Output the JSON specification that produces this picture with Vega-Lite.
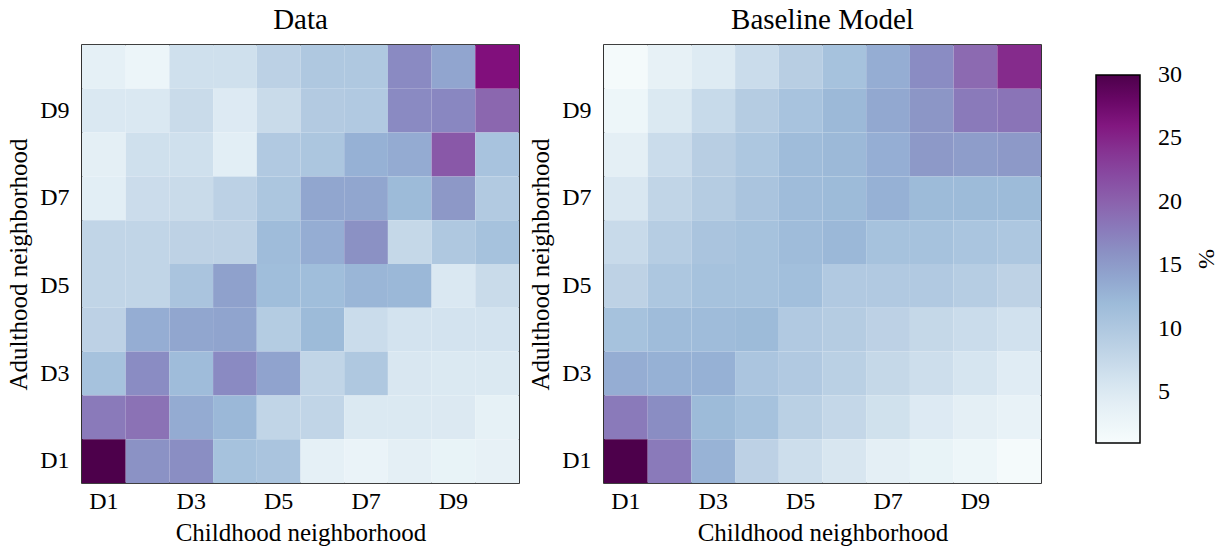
{
  "$schema": "https://vega.github.io/schema/vega-lite/v6.json",
  "background": "white",
  "padding": 5,
  "datasets": {
    "cells": [
      {"panel":"Data","adult":"D10","child":"D1","value":3.7},{"panel":"Data","adult":"D10","child":"D2","value":2.6},{"panel":"Data","adult":"D10","child":"D3","value":6.4},{"panel":"Data","adult":"D10","child":"D4","value":6.4},{"panel":"Data","adult":"D10","child":"D5","value":8.6},{"panel":"Data","adult":"D10","child":"D6","value":10.0},{"panel":"Data","adult":"D10","child":"D7","value":10.0},{"panel":"Data","adult":"D10","child":"D8","value":16.6},{"panel":"Data","adult":"D10","child":"D9","value":14.1},{"panel":"Data","adult":"D10","child":"D10","value":26.4},
      {"panel":"Data","adult":"D9","child":"D1","value":5.2},{"panel":"Data","adult":"D9","child":"D2","value":5.2},{"panel":"Data","adult":"D9","child":"D3","value":7.1},{"panel":"Data","adult":"D9","child":"D4","value":4.9},{"panel":"Data","adult":"D9","child":"D5","value":7.1},{"panel":"Data","adult":"D9","child":"D6","value":9.6},{"panel":"Data","adult":"D9","child":"D7","value":9.8},{"panel":"Data","adult":"D9","child":"D8","value":16.6},{"panel":"Data","adult":"D9","child":"D9","value":16.8},{"panel":"Data","adult":"D9","child":"D10","value":19.5},
      {"panel":"Data","adult":"D8","child":"D1","value":4.0},{"panel":"Data","adult":"D8","child":"D2","value":6.4},{"panel":"Data","adult":"D8","child":"D3","value":6.4},{"panel":"Data","adult":"D8","child":"D4","value":4.3},{"panel":"Data","adult":"D8","child":"D5","value":9.8},{"panel":"Data","adult":"D8","child":"D6","value":10.3},{"panel":"Data","adult":"D8","child":"D7","value":13.0},{"panel":"Data","adult":"D8","child":"D8","value":13.5},{"panel":"Data","adult":"D8","child":"D9","value":20.9},{"panel":"Data","adult":"D8","child":"D10","value":10.8},
      {"panel":"Data","adult":"D7","child":"D1","value":4.2},{"panel":"Data","adult":"D7","child":"D2","value":6.9},{"panel":"Data","adult":"D7","child":"D3","value":7.1},{"panel":"Data","adult":"D7","child":"D4","value":8.6},{"panel":"Data","adult":"D7","child":"D5","value":10.3},{"panel":"Data","adult":"D7","child":"D6","value":14.0},{"panel":"Data","adult":"D7","child":"D7","value":14.0},{"panel":"Data","adult":"D7","child":"D8","value":12.0},{"panel":"Data","adult":"D7","child":"D9","value":15.3},{"panel":"Data","adult":"D7","child":"D10","value":9.7},
      {"panel":"Data","adult":"D6","child":"D1","value":8.0},{"panel":"Data","adult":"D6","child":"D2","value":8.0},{"panel":"Data","adult":"D6","child":"D3","value":8.4},{"panel":"Data","adult":"D6","child":"D4","value":8.4},{"panel":"Data","adult":"D6","child":"D5","value":11.8},{"panel":"Data","adult":"D6","child":"D6","value":13.3},{"panel":"Data","adult":"D6","child":"D7","value":16.0},{"panel":"Data","adult":"D6","child":"D8","value":7.6},{"panel":"Data","adult":"D6","child":"D9","value":10.0},{"panel":"Data","adult":"D6","child":"D10","value":11.0},
      {"panel":"Data","adult":"D5","child":"D1","value":8.0},{"panel":"Data","adult":"D5","child":"D2","value":8.0},{"panel":"Data","adult":"D5","child":"D3","value":10.6},{"panel":"Data","adult":"D5","child":"D4","value":14.5},{"panel":"Data","adult":"D5","child":"D5","value":11.6},{"panel":"Data","adult":"D5","child":"D6","value":11.6},{"panel":"Data","adult":"D5","child":"D7","value":12.5},{"panel":"Data","adult":"D5","child":"D8","value":12.3},{"panel":"Data","adult":"D5","child":"D9","value":5.2},{"panel":"Data","adult":"D5","child":"D10","value":7.1},
      {"panel":"Data","adult":"D4","child":"D1","value":8.5},{"panel":"Data","adult":"D4","child":"D2","value":13.3},{"panel":"Data","adult":"D4","child":"D3","value":14.0},{"panel":"Data","adult":"D4","child":"D4","value":14.2},{"panel":"Data","adult":"D4","child":"D5","value":9.4},{"panel":"Data","adult":"D4","child":"D6","value":12.0},{"panel":"Data","adult":"D4","child":"D7","value":7.0},{"panel":"Data","adult":"D4","child":"D8","value":6.0},{"panel":"Data","adult":"D4","child":"D9","value":6.0},{"panel":"Data","adult":"D4","child":"D10","value":6.0},
      {"panel":"Data","adult":"D3","child":"D1","value":11.0},{"panel":"Data","adult":"D3","child":"D2","value":16.4},{"panel":"Data","adult":"D3","child":"D3","value":11.8},{"panel":"Data","adult":"D3","child":"D4","value":16.6},{"panel":"Data","adult":"D3","child":"D5","value":14.3},{"panel":"Data","adult":"D3","child":"D6","value":8.0},{"panel":"Data","adult":"D3","child":"D7","value":10.0},{"panel":"Data","adult":"D3","child":"D8","value":5.4},{"panel":"Data","adult":"D3","child":"D9","value":5.1},{"panel":"Data","adult":"D3","child":"D10","value":5.1},
      {"panel":"Data","adult":"D2","child":"D1","value":17.9},{"panel":"Data","adult":"D2","child":"D2","value":18.6},{"panel":"Data","adult":"D2","child":"D3","value":13.5},{"panel":"Data","adult":"D2","child":"D4","value":12.3},{"panel":"Data","adult":"D2","child":"D5","value":8.0},{"panel":"Data","adult":"D2","child":"D6","value":8.0},{"panel":"Data","adult":"D2","child":"D7","value":5.1},{"panel":"Data","adult":"D2","child":"D8","value":5.1},{"panel":"Data","adult":"D2","child":"D9","value":5.0},{"panel":"Data","adult":"D2","child":"D10","value":3.6},
      {"panel":"Data","adult":"D1","child":"D1","value":30.0},{"panel":"Data","adult":"D1","child":"D2","value":15.9},{"panel":"Data","adult":"D1","child":"D3","value":16.2},{"panel":"Data","adult":"D1","child":"D4","value":11.0},{"panel":"Data","adult":"D1","child":"D5","value":10.6},{"panel":"Data","adult":"D1","child":"D6","value":3.8},{"panel":"Data","adult":"D1","child":"D7","value":3.0},{"panel":"Data","adult":"D1","child":"D8","value":4.0},{"panel":"Data","adult":"D1","child":"D9","value":3.2},{"panel":"Data","adult":"D1","child":"D10","value":3.5},
      {"panel":"Baseline Model","adult":"D10","child":"D1","value":1.5},{"panel":"Baseline Model","adult":"D10","child":"D2","value":3.5},{"panel":"Baseline Model","adult":"D10","child":"D3","value":4.8},{"panel":"Baseline Model","adult":"D10","child":"D4","value":7.0},{"panel":"Baseline Model","adult":"D10","child":"D5","value":9.0},{"panel":"Baseline Model","adult":"D10","child":"D6","value":11.0},{"panel":"Baseline Model","adult":"D10","child":"D7","value":13.3},{"panel":"Baseline Model","adult":"D10","child":"D8","value":16.4},{"panel":"Baseline Model","adult":"D10","child":"D9","value":19.2},{"panel":"Baseline Model","adult":"D10","child":"D10","value":24.7},
      {"panel":"Baseline Model","adult":"D9","child":"D1","value":2.5},{"panel":"Baseline Model","adult":"D9","child":"D2","value":5.1},{"panel":"Baseline Model","adult":"D9","child":"D3","value":7.3},{"panel":"Baseline Model","adult":"D9","child":"D4","value":9.3},{"panel":"Baseline Model","adult":"D9","child":"D5","value":10.8},{"panel":"Baseline Model","adult":"D9","child":"D6","value":12.2},{"panel":"Baseline Model","adult":"D9","child":"D7","value":13.8},{"panel":"Baseline Model","adult":"D9","child":"D8","value":15.5},{"panel":"Baseline Model","adult":"D9","child":"D9","value":17.9},{"panel":"Baseline Model","adult":"D9","child":"D10","value":18.4},
      {"panel":"Baseline Model","adult":"D8","child":"D1","value":4.0},{"panel":"Baseline Model","adult":"D8","child":"D2","value":7.0},{"panel":"Baseline Model","adult":"D8","child":"D3","value":9.0},{"panel":"Baseline Model","adult":"D8","child":"D4","value":10.2},{"panel":"Baseline Model","adult":"D8","child":"D5","value":11.8},{"panel":"Baseline Model","adult":"D8","child":"D6","value":12.2},{"panel":"Baseline Model","adult":"D8","child":"D7","value":13.2},{"panel":"Baseline Model","adult":"D8","child":"D8","value":15.2},{"panel":"Baseline Model","adult":"D8","child":"D9","value":14.9},{"panel":"Baseline Model","adult":"D8","child":"D10","value":15.2},
      {"panel":"Baseline Model","adult":"D7","child":"D1","value":5.4},{"panel":"Baseline Model","adult":"D7","child":"D2","value":8.0},{"panel":"Baseline Model","adult":"D7","child":"D3","value":9.3},{"panel":"Baseline Model","adult":"D7","child":"D4","value":10.6},{"panel":"Baseline Model","adult":"D7","child":"D5","value":11.8},{"panel":"Baseline Model","adult":"D7","child":"D6","value":12.0},{"panel":"Baseline Model","adult":"D7","child":"D7","value":13.0},{"panel":"Baseline Model","adult":"D7","child":"D8","value":12.0},{"panel":"Baseline Model","adult":"D7","child":"D9","value":12.0},{"panel":"Baseline Model","adult":"D7","child":"D10","value":12.0},
      {"panel":"Baseline Model","adult":"D6","child":"D1","value":7.2},{"panel":"Baseline Model","adult":"D6","child":"D2","value":9.2},{"panel":"Baseline Model","adult":"D6","child":"D3","value":10.6},{"panel":"Baseline Model","adult":"D6","child":"D4","value":11.0},{"panel":"Baseline Model","adult":"D6","child":"D5","value":11.8},{"panel":"Baseline Model","adult":"D6","child":"D6","value":12.3},{"panel":"Baseline Model","adult":"D6","child":"D7","value":11.0},{"panel":"Baseline Model","adult":"D6","child":"D8","value":11.0},{"panel":"Baseline Model","adult":"D6","child":"D9","value":10.5},{"panel":"Baseline Model","adult":"D6","child":"D10","value":10.2},
      {"panel":"Baseline Model","adult":"D5","child":"D1","value":8.4},{"panel":"Baseline Model","adult":"D5","child":"D2","value":10.2},{"panel":"Baseline Model","adult":"D5","child":"D3","value":11.0},{"panel":"Baseline Model","adult":"D5","child":"D4","value":11.0},{"panel":"Baseline Model","adult":"D5","child":"D5","value":11.4},{"panel":"Baseline Model","adult":"D5","child":"D6","value":9.8},{"panel":"Baseline Model","adult":"D5","child":"D7","value":9.8},{"panel":"Baseline Model","adult":"D5","child":"D8","value":9.8},{"panel":"Baseline Model","adult":"D5","child":"D9","value":9.2},{"panel":"Baseline Model","adult":"D5","child":"D10","value":8.4},
      {"panel":"Baseline Model","adult":"D4","child":"D1","value":11.0},{"panel":"Baseline Model","adult":"D4","child":"D2","value":11.8},{"panel":"Baseline Model","adult":"D4","child":"D3","value":11.8},{"panel":"Baseline Model","adult":"D4","child":"D4","value":12.0},{"panel":"Baseline Model","adult":"D4","child":"D5","value":9.8},{"panel":"Baseline Model","adult":"D4","child":"D6","value":9.3},{"panel":"Baseline Model","adult":"D4","child":"D7","value":8.5},{"panel":"Baseline Model","adult":"D4","child":"D8","value":7.6},{"panel":"Baseline Model","adult":"D4","child":"D9","value":7.0},{"panel":"Baseline Model","adult":"D4","child":"D10","value":6.2},
      {"panel":"Baseline Model","adult":"D3","child":"D1","value":13.3},{"panel":"Baseline Model","adult":"D3","child":"D2","value":13.0},{"panel":"Baseline Model","adult":"D3","child":"D3","value":13.0},{"panel":"Baseline Model","adult":"D3","child":"D4","value":10.4},{"panel":"Baseline Model","adult":"D3","child":"D5","value":9.8},{"panel":"Baseline Model","adult":"D3","child":"D6","value":8.8},{"panel":"Baseline Model","adult":"D3","child":"D7","value":7.6},{"panel":"Baseline Model","adult":"D3","child":"D8","value":6.6},{"panel":"Baseline Model","adult":"D3","child":"D9","value":5.7},{"panel":"Baseline Model","adult":"D3","child":"D10","value":4.6},
      {"panel":"Baseline Model","adult":"D2","child":"D1","value":17.9},{"panel":"Baseline Model","adult":"D2","child":"D2","value":16.3},{"panel":"Baseline Model","adult":"D2","child":"D3","value":12.0},{"panel":"Baseline Model","adult":"D2","child":"D4","value":11.0},{"panel":"Baseline Model","adult":"D2","child":"D5","value":8.8},{"panel":"Baseline Model","adult":"D2","child":"D6","value":7.7},{"panel":"Baseline Model","adult":"D2","child":"D7","value":6.3},{"panel":"Baseline Model","adult":"D2","child":"D8","value":4.9},{"panel":"Baseline Model","adult":"D2","child":"D9","value":4.0},{"panel":"Baseline Model","adult":"D2","child":"D10","value":3.3},
      {"panel":"Baseline Model","adult":"D1","child":"D1","value":30.0},{"panel":"Baseline Model","adult":"D1","child":"D2","value":17.9},{"panel":"Baseline Model","adult":"D1","child":"D3","value":12.8},{"panel":"Baseline Model","adult":"D1","child":"D4","value":8.5},{"panel":"Baseline Model","adult":"D1","child":"D5","value":6.7},{"panel":"Baseline Model","adult":"D1","child":"D6","value":5.5},{"panel":"Baseline Model","adult":"D1","child":"D7","value":4.0},{"panel":"Baseline Model","adult":"D1","child":"D8","value":3.2},{"panel":"Baseline Model","adult":"D1","child":"D9","value":2.5},{"panel":"Baseline Model","adult":"D1","child":"D10","value":1.5}
    ]
  },
  "data": {"name": "cells"},
  "spacing": 85,
  "bounds": "flush",
  "resolve": {"scale": {"color": "shared"}},
  "hconcat": [
    {
      "title": {"text": "Data"},
      "width": 437,
      "height": 438,
      "transform": [{"filter": "datum.panel === 'Data'"}],
      "mark": {"type": "rect", "strokeWidth": 0},
      "encoding": {
        "x": {"field": "child", "type": "ordinal", "sort": ["D1","D2","D3","D4","D5","D6","D7","D8","D9","D10"], "scale": {"paddingInner": 0, "paddingOuter": 0}, "axis": {"values": ["D1","D3","D5","D7","D9"], "title": "Childhood neighborhood"}},
        "y": {"field": "adult", "type": "ordinal", "sort": ["D10","D9","D8","D7","D6","D5","D4","D3","D2","D1"], "scale": {"paddingInner": 0, "paddingOuter": 0}, "axis": {"values": ["D1","D3","D5","D7","D9"], "title": "Adulthood neighborhood"}},
        "color": {"field": "value", "type": "quantitative",
          "scale": {"domain": [1, 4.625, 8.25, 11.875, 15.5, 19.125, 22.75, 26.375, 30], "range": ["#f7fcfd","#e0ecf4","#bfd3e6","#9ebcda","#8c96c6","#8c6bb1","#88419d","#810f7c","#4d004b"]},
          "legend": {"orient": "none", "legendX": 1014, "legendY": 30, "direction": "vertical", "title": "%", "titleOrient": "right", "titleAnchor": "middle", "titleAngle": 270, "titlePadding": 12, "gradientLength": 368, "gradientThickness": 44, "gradientStrokeColor": "#000000", "gradientStrokeWidth": 1.5, "values": [5, 10, 15, 20, 25, 30], "labelOffset": 18, "labelBaseline": "middle", "encode": {"labels": {"update": {"baseline": {"value": "middle"}}}}}}
      }
    },
    {
      "title": {"text": "Baseline Model"},
      "width": 437,
      "height": 438,
      "transform": [{"filter": "datum.panel === 'Baseline Model'"}],
      "mark": {"type": "rect", "strokeWidth": 0},
      "encoding": {
        "x": {"field": "child", "type": "ordinal", "sort": ["D1","D2","D3","D4","D5","D6","D7","D8","D9","D10"], "scale": {"paddingInner": 0, "paddingOuter": 0}, "axis": {"values": ["D1","D3","D5","D7","D9"], "title": "Childhood neighborhood"}},
        "y": {"field": "adult", "type": "ordinal", "sort": ["D10","D9","D8","D7","D6","D5","D4","D3","D2","D1"], "scale": {"paddingInner": 0, "paddingOuter": 0}, "axis": {"values": ["D1","D3","D5","D7","D9"], "title": "Adulthood neighborhood"}},
        "color": {"field": "value", "type": "quantitative",
          "scale": {"domain": [1, 4.625, 8.25, 11.875, 15.5, 19.125, 22.75, 26.375, 30], "range": ["#f7fcfd","#e0ecf4","#bfd3e6","#9ebcda","#8c96c6","#8c6bb1","#88419d","#810f7c","#4d004b"]},
          "legend": {"orient": "none", "legendX": 1014, "legendY": 30, "direction": "vertical", "title": "%", "titleOrient": "right", "titleAnchor": "middle", "titleAngle": 270, "titlePadding": 12, "gradientLength": 368, "gradientThickness": 44, "gradientStrokeColor": "#000000", "gradientStrokeWidth": 1.5, "values": [5, 10, 15, 20, 25, 30], "labelOffset": 18, "labelBaseline": "middle", "encode": {"labels": {"update": {"baseline": {"value": "middle"}}}}}}
      }
    }
  ],
  "config": {
    "font": "Liberation Serif",
    "view": {"stroke": "#000000", "strokeWidth": 1.6},
    "title": {"font": "Liberation Serif", "fontSize": 29, "fontWeight": "normal", "color": "#000000", "offset": 10},
    "axis": {"labelFont": "Liberation Serif", "titleFont": "Liberation Serif", "labelFontSize": 24, "titleFontSize": 25, "titleFontWeight": "normal", "labelColor": "#000000", "titleColor": "#000000", "domain": false, "ticks": false, "grid": false, "labelAngle": 0},
    "axisX": {"labelPadding": 6, "titlePadding": 7},
    "axisY": {"labelPadding": 13, "titlePadding": 8},
    "legend": {"labelFont": "Liberation Serif", "titleFont": "Liberation Serif", "labelFontSize": 24, "titleFontSize": 24, "titleFontWeight": "normal", "labelColor": "#000000", "titleColor": "#000000"}
  }
}
